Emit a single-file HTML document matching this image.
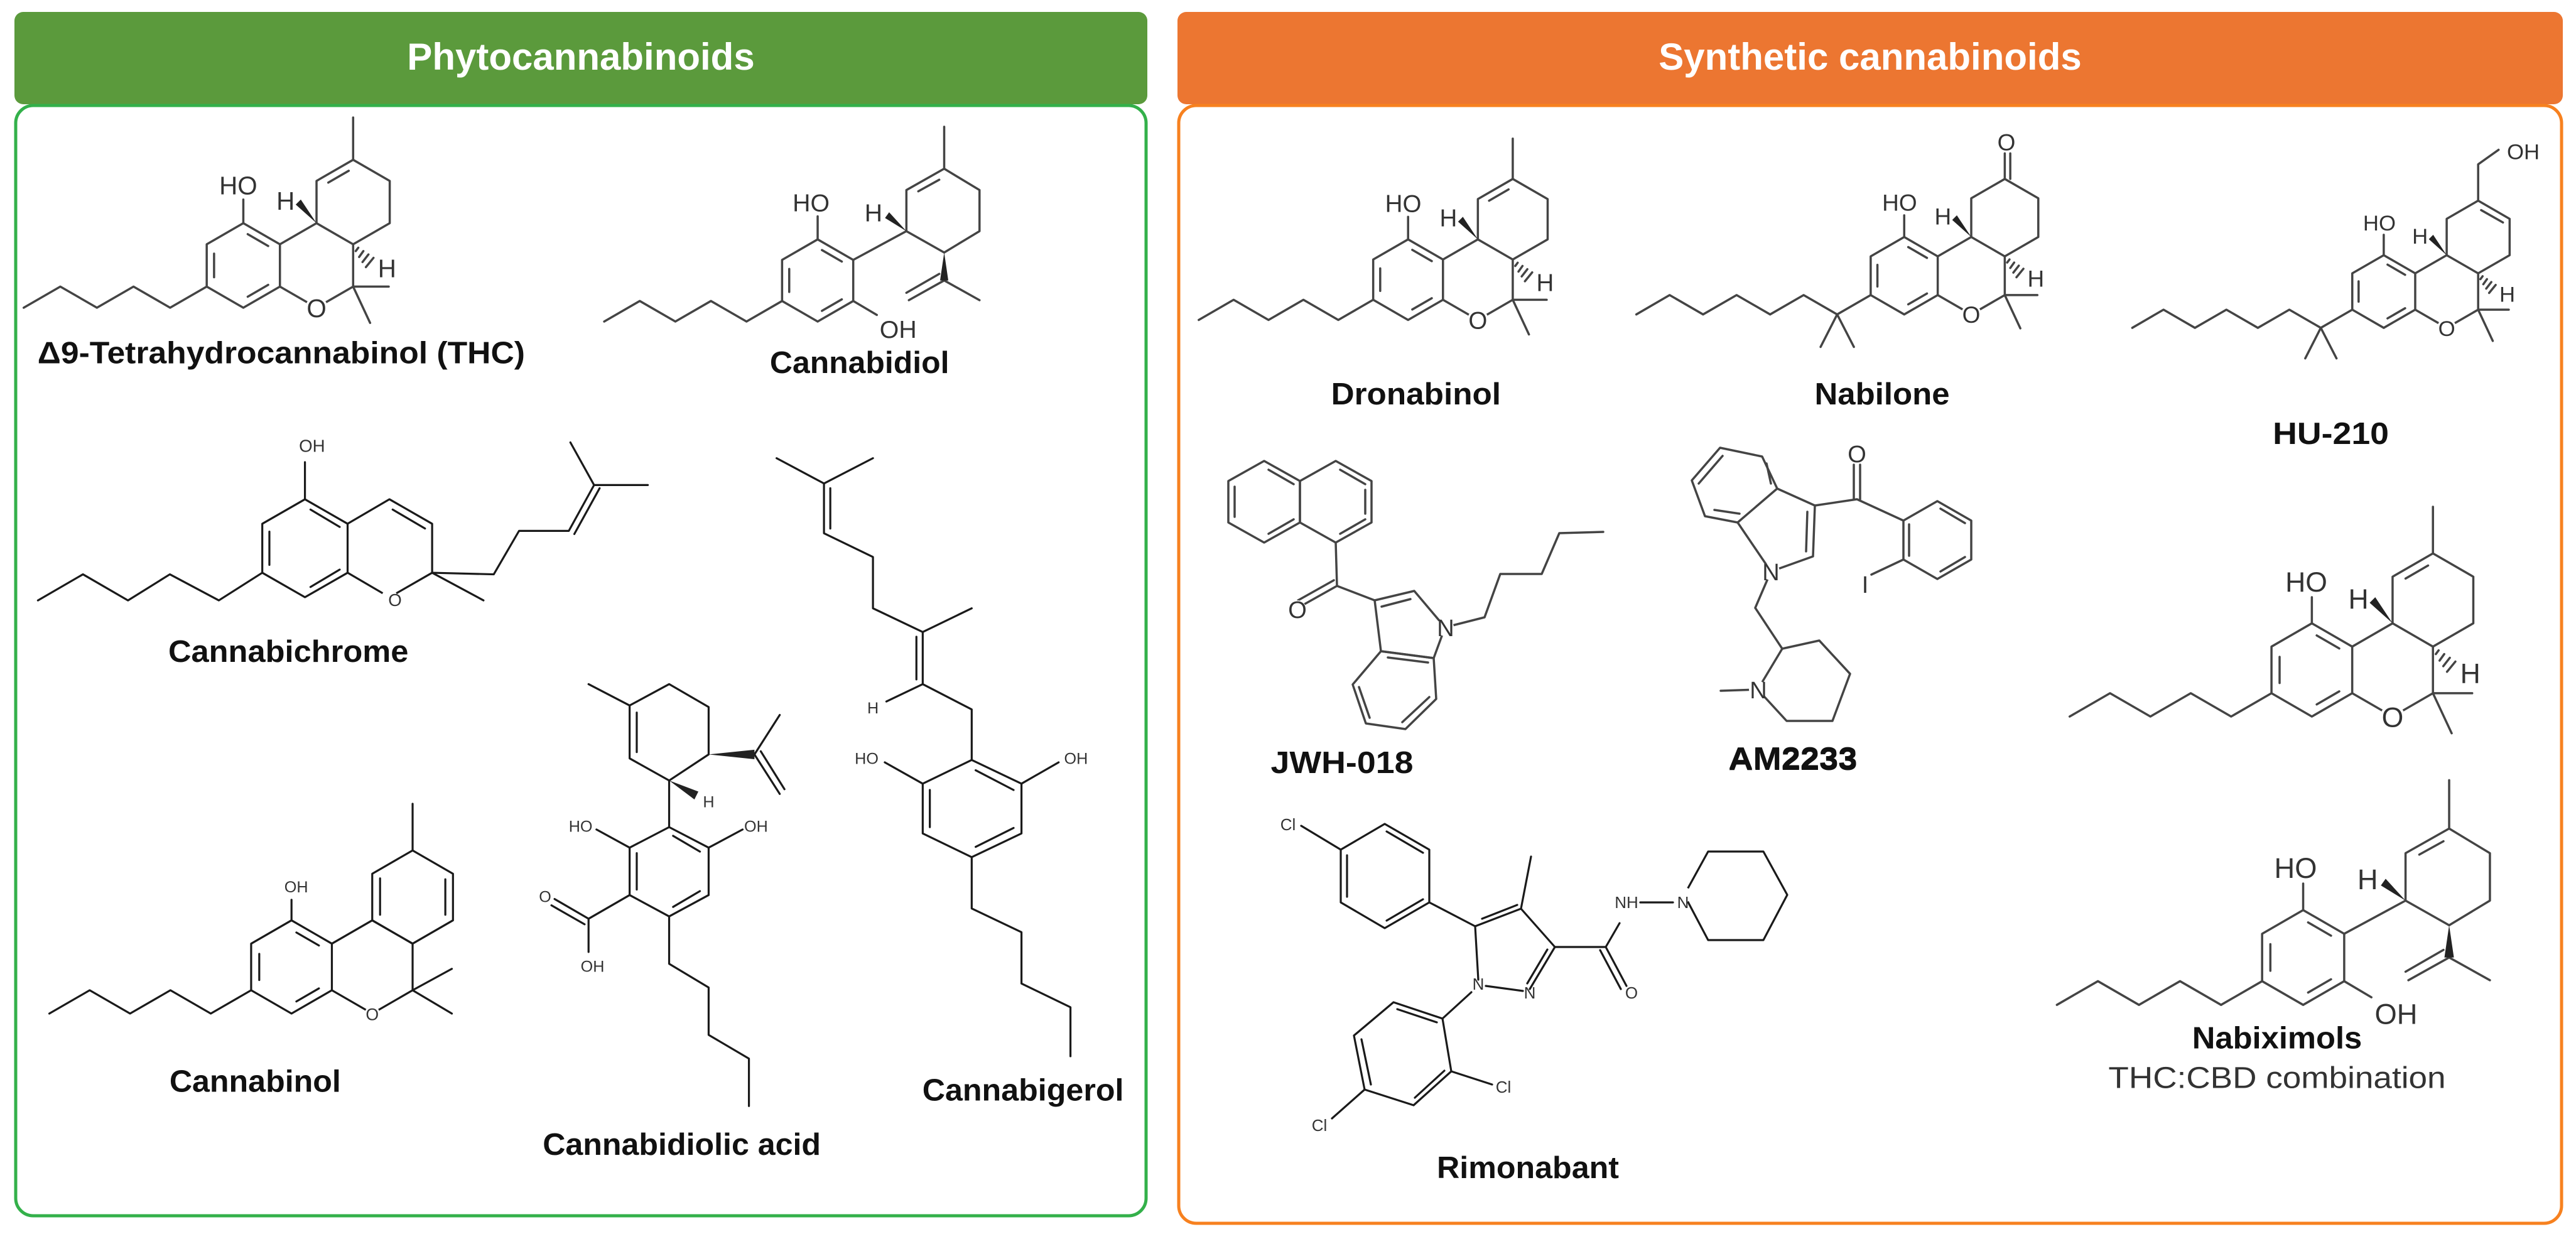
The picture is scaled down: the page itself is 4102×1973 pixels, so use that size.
<!DOCTYPE html>
<html><head><meta charset="utf-8">
<style>
html,body{margin:0;padding:0;background:#fff;}
svg{display:block;}
svg *{vector-effect:non-scaling-stroke;}
.l{fill:none;stroke:#444;stroke-width:3.5;stroke-linejoin:round;stroke-linecap:round;}
.k{fill:none;stroke:#1a1a1a;stroke-width:3.2;stroke-linejoin:round;stroke-linecap:round;}
.w{fill:#222;stroke:none;}
.a{font-family:"Liberation Sans",sans-serif;fill:#333;text-anchor:middle;}
.lab{font-family:"Liberation Sans",sans-serif;font-weight:bold;fill:#111;text-anchor:middle;}
.hd{font-family:"Liberation Sans",sans-serif;font-weight:bold;fill:#fff;text-anchor:middle;font-size:60px;}
</style></head><body>
<svg width="4102" height="1973" viewBox="0 0 4102 1973" xmlns="http://www.w3.org/2000/svg">
<defs>
 <g id="core">
  <polygon class="l" points="0,-50 43.3,-25 43.3,25 0,50 -43.3,25 -43.3,-25"/>
  <path class="l" d="M5.2,-37L29.4,-23M29.4,23L5.2,37M-34.6,14L-34.6,-14"/>
  <polyline class="l" points="43.3,-25 86.6,-50 129.9,-25 129.9,25 86.6,50 43.3,25"/>
  <polyline class="l" points="86.6,-50 86.6,-100 129.9,-125 173.2,-100 173.2,-50 129.9,-25"/>
  <path class="l" d="M0,-50L0,-78M129.9,25L172,25M129.9,25L150,68"/>
  <text class="a" x="-6" y="-84" font-size="30">HO</text>
  <polygon class="w" points="86.6,-50 62,-72 68,-78"/>
  <text class="a" x="50" y="-66" font-size="30">H</text>
  <path class="l" d="M136,-21L133,-17M142,-17L137,-10M148,-13L141,-4M154,-9L145,2"/>
  <text class="a" x="170" y="14" font-size="30">H</text>
  <circle cx="86.6" cy="50" r="13" fill="#fff"/>
  <text class="a" x="86.6" y="61" font-size="30">O</text>
 </g>
 <g id="thc">
  <use href="#core"/>
  <path class="l" d="M100.5,-98L124.7,-112M129.9,-125L129.9,-175"/>
  <polyline class="l" points="-43.3,25 -86.6,50 -129.9,25 -173.2,50 -216.5,25 -259.8,50"/>
 </g>
 <g id="dmh">
  <polyline class="l" points="-43.3,25 -86.6,50 -129.9,25 -173.2,50 -216.5,25 -259.8,50 -303,25 -346,50"/>
  <path class="l" d="M-86.6,50L-108,92M-86.6,50L-65,92"/>
 </g>
 <g id="cbd">
  <polygon class="l" points="0,-50 43.3,-25 43.3,25 0,50 -43.3,25 -43.3,-25"/>
  <path class="l" d="M5.2,-37L29.4,-23M29.4,23L5.2,37M-34.6,14L-34.6,-14"/>
  <path class="l" d="M0,-50L0,-78M43.3,25L72,42M43.3,-25L108,-60"/>
  <text class="a" x="-8" y="-84" font-size="30">HO</text>
  <text class="a" x="98" y="70" font-size="30">OH</text>
  <polygon class="l" points="108,-60 108,-110 154,-136 197,-110 197,-60 154,-34"/>
  <path class="l" d="M122.5,-108.5L148,-122.6M154,-136L154,-187M154,0L197,24M154,0L111,24M148,-8L108,15"/>
  <polygon class="w" points="154,-34 149,0 159,0"/>
  <polygon class="w" points="108,-60 82,-76 87,-83"/>
  <text class="a" x="68" y="-72" font-size="30">H</text>
  <polyline class="l" points="-43.3,25 -86.6,50 -129.9,25 -173.2,50 -216.5,25 -259.8,50"/>
 </g>
</defs>

<!-- headers and boxes -->
<rect x="23" y="19" width="1804" height="147" rx="14" fill="#5b9a3c"/>
<rect x="25" y="168" width="1800" height="1768" rx="28" fill="#fff" stroke="#33b04a" stroke-width="5"/>
<rect x="1875" y="19" width="2206" height="147" rx="14" fill="#ec7631"/>
<rect x="1877" y="168" width="2202" height="1780" rx="28" fill="#fff" stroke="#f7811f" stroke-width="5"/>
<text class="hd" x="925" y="111">Phytocannabinoids</text>
<text class="hd" x="2978" y="111">Synthetic cannabinoids</text>

<!-- LEFT -->
<g transform="scale(1.258)">
 <use href="#thc" transform="translate(308,336) scale(1.07)"/>
 <use href="#cbd" transform="translate(1035,355) scale(1.04)"/>
 <text class="lab" x="356" y="460" font-size="39" textLength="617" lengthAdjust="spacingAndGlyphs">Δ9-Tetrahydrocannabinol (THC)</text>
 <text class="lab" x="1088" y="472" font-size="39" textLength="227" lengthAdjust="spacingAndGlyphs">Cannabidiol</text>

 <!-- Cannabichrome -->
 <polygon class="k" points="386,632 440,663 440,725 386,756 332,725 332,663"/>
 <path class="k" d="M341,673L341,715M393,645L430,667M430,721L393,743"/>
 <polyline class="k" points="440,663 493,632 547,663 547,725 493,756 440,725"/>
 <path class="k" d="M497,645L538,669M386,632L386,585M547,725L612,760"/>
 <polyline class="k" points="547,725 625,727 657,672 720,672 752,614"/>
 <path class="k" d="M727,676L759,618M752,614L722,560M752,614L820,614"/>
 <polyline class="k" points="332,725 277,760 215,727 162,760 105,727 48,760"/>
 <text class="a" x="395" y="572" font-size="22" fill="#111">OH</text>
 <circle cx="493" cy="756" r="10" fill="#fff"/>
 <text class="a" x="500" y="767" font-size="22">O</text>
 <text class="lab" x="365" y="838" font-size="39" textLength="304" lengthAdjust="spacingAndGlyphs">Cannabichrome</text>

 <!-- Cannabinol -->
 <g transform="translate(369,1224) scale(1.18)">
  <polygon class="k" points="0,-50 43.3,-25 43.3,25 0,50 -43.3,25 -43.3,-25"/>
  <path class="k" d="M5.2,-37L29.4,-23M29.4,23L5.2,37M-34.6,14L-34.6,-14"/>
  <polyline class="k" points="43.3,-25 86.6,-50 129.9,-25 129.9,25 86.6,50 43.3,25"/>
  <polygon class="k" points="86.6,-50 86.6,-100 129.9,-125 173.2,-100 173.2,-50 129.9,-25"/>
  <path class="k" d="M165,-94L165,-56M95,-95L95,-56M129.9,-125L129.9,-175M0,-50L0,-72M129.9,25L172,2M129.9,25L172,50"/>
  <polyline class="k" points="-43.3,25 -86.6,50 -129.9,25 -173.2,50 -216.5,25 -259.8,50"/>
  <text class="a" x="5" y="-80" font-size="17" fill="#111">OH</text>
  <circle cx="86.6" cy="50" r="8" fill="#fff"/>
  <text class="a" x="86.6" y="57" font-size="18">O</text>
 </g>
 <text class="lab" x="323" y="1382" font-size="39" textLength="217" lengthAdjust="spacingAndGlyphs">Cannabinol</text>

 <!-- Cannabidiolic acid -->
 <polygon class="k" points="847,1047 897,1073 897,1133 847,1160 797,1133 797,1073"/>
 <path class="k" d="M852,1058L886,1078M886,1128L852,1148M806,1080L806,1126"/>
 <path class="k" d="M797,1073L755,1050M897,1073L940,1050M797,1133L745,1163M745,1163L702,1138M740,1170L698,1146M745,1163L745,1205M847,1047L847,988"/>
 <polygon class="k" points="847,988 797,960 797,893 847,866 897,895 897,955"/>
 <path class="k" d="M806,902L806,952M797,893L745,866M955,955L987,905M955,955L987,1005M963,951L993,999"/>
 <polygon class="w" points="897,955 955,949 955,961"/>
 <polygon class="w" points="847,988 884,1002 879,1012"/>
 <polyline class="k" points="847,1160 847,1220 897,1250 897,1310 948,1340 948,1400"/>
 <text class="a" x="735" y="1053" font-size="20" fill="#111">HO</text>
 <text class="a" x="957" y="1053" font-size="20" fill="#111">OH</text>
 <text class="a" x="690" y="1142" font-size="20" fill="#111">O</text>
 <text class="a" x="750" y="1230" font-size="20" fill="#111">OH</text>
 <text class="a" x="897" y="1022" font-size="20" fill="#111">H</text>
 <text class="lab" x="863" y="1462" font-size="39" textLength="352" lengthAdjust="spacingAndGlyphs">Cannabidiolic acid</text>

 <!-- Cannabigerol -->
 <polygon class="k" points="1230,962 1293,992 1293,1055 1230,1085 1168,1055 1168,992"/>
 <path class="k" d="M1177,1000L1177,1047M1235,975L1283,1000M1283,1048L1235,1072"/>
 <path class="k" d="M1168,992L1120,965M1293,992L1340,965"/>
 <polyline class="k" points="1230,962 1230,898 1168,866 1168,800 1105,770 1105,705 1043,675 1043,612"/>
 <path class="k" d="M1160,860L1160,806M1051,669L1051,618M1168,800L1230,770M1043,612L983,580M1043,612L1105,580M1168,866L1122,888"/>
 <polyline class="k" points="1230,1085 1230,1150 1293,1180 1293,1245 1355,1275 1355,1337"/>
 <text class="a" x="1097" y="967" font-size="20" fill="#111">HO</text>
 <text class="a" x="1362" y="967" font-size="20" fill="#111">OH</text>
 <text class="a" x="1105" y="903" font-size="20" fill="#111">H</text>
 <text class="lab" x="1295" y="1393" font-size="39" textLength="255" lengthAdjust="spacingAndGlyphs">Cannabigerol</text>
</g>

<!-- RIGHT (zoomed coords) -->
<g transform="translate(2129,0) scale(1.258)">
 <use href="#thc" transform="translate(90,354) scale(1.02)"/>
 <g transform="translate(718,349) scale(0.98)">
  <use href="#core"/><use href="#dmh"/>
  <path class="l" d="M129.9,-125L129.9,-158M137,-125L137,-158"/>
  <text class="a" x="132" y="-162" font-size="30">O</text>
 </g>
 <g transform="translate(1325,369) scale(0.92)">
  <use href="#core"/><use href="#dmh"/>
  <path class="l" d="M134,-112L164,-95M129.9,-125L129.9,-175L158,-195"/>
  <text class="a" x="192" y="-182" font-size="30">OH</text>
 </g>
 <use href="#thc" transform="translate(1234,848) scale(1.18)"/>
 <use href="#cbd" transform="translate(1223,1212) scale(1.2)"/>
 <text class="lab" x="100" y="512" font-size="39" textLength="215" lengthAdjust="spacingAndGlyphs">Dronabinol</text>
 <text class="lab" x="690" y="512" font-size="39" textLength="171" lengthAdjust="spacingAndGlyphs">Nabilone</text>
 <text class="lab" x="1258" y="562" font-size="39" textLength="147" lengthAdjust="spacingAndGlyphs">HU-210</text>
 <text class="lab" x="577" y="973" font-size="39" textLength="163" lengthAdjust="spacingAndGlyphs">AM2233</text>
 <text class="lab" x="1190" y="1327" font-size="39" textLength="215" lengthAdjust="spacingAndGlyphs">Nabiximols</text>
 <text class="a" x="1190" y="1377" font-size="38" fill="#111" textLength="427" lengthAdjust="spacingAndGlyphs">THC:CBD combination</text>
</g>

<!-- JWH-018 (orig coords) -->
<g>
 <polygon class="l" points="2013,734 2070,766 2070,832 2013,864 1956,832 1956,766"/>
 <polygon class="l" points="2127,734 2184,766 2184,832 2127,864 2070,832 2070,766"/>
 <path class="l" d="M1966,775L1966,823M2020,748L2060,771M2060,827L2020,850M2134,748L2174,771M2174,780L2174,818M2134,850L2174,827"/>
 <path class="l" d="M2127,864L2129,933M2129,933L2072,965M2124,924L2067,956M2129,933L2189,956"/>
 <polygon class="l" points="2189,956 2252,941 2301,999 2283,1048 2199,1037"/>
 <path class="l" d="M2200,966L2246,954"/>
 <polygon class="l" points="2199,1037 2283,1048 2287,1113 2238,1161 2175,1152 2154,1090"/>
 <path class="l" d="M2164,1094L2181,1143M2233,1150L2276,1110M2210,1047L2274,1055"/>
 <polyline class="l" points="2301,999 2364,983 2389,914 2455,914 2483,849 2553,847"/>
 <circle cx="2301" cy="999" r="14" fill="#fff"/>
 <text class="a" x="2302" y="1013" font-size="38">N</text>
 <circle cx="2066" cy="970" r="14" fill="#fff"/>
 <text class="a" x="2066" y="984" font-size="38">O</text>
 <text class="lab" x="2137" y="1231" font-size="49" textLength="227" lengthAdjust="spacingAndGlyphs">JWH-018</text>
</g>

<!-- AM2233 -->
<g>
 <polygon class="l" points="2694,765 2739,713 2806,727 2830,778 2767,832 2715,822"/>
 <path class="l" d="M2705,770L2743,726M2730,812L2770,818M2813,738L2820,770"/>
 <polyline class="l" points="2830,778 2890,805 2887,886 2820,910 2767,832"/>
 <path class="l" d="M2878,815L2876,878"/>
 <path class="l" d="M2890,805L2957,795L3031,829M2952,795L2952,740M2962,795L2962,740"/>
 <polygon class="l" points="3085,798 3139,829 3139,891 3085,922 3031,891 3031,829"/>
 <path class="l" d="M3090,810L3129,833M3129,887L3090,910M3040,835L3040,885M3031,891L2980,915"/>
 <polyline class="l" points="2820,910 2795,968 2838,1033"/>
 <polygon class="l" points="2838,1033 2897,1020 2946,1073 2918,1148 2845,1148 2799,1098"/>
 <path class="l" d="M2799,1098L2740,1100"/>
 <circle cx="2820" cy="910" r="14" fill="#fff"/>
 <text class="a" x="2820" y="924" font-size="38">N</text>
 <circle cx="2799" cy="1098" r="14" fill="#fff"/>
 <text class="a" x="2800" y="1112" font-size="38">N</text>
 <text class="a" x="2957" y="736" font-size="38">O</text>
 <text class="a" x="2970" y="944" font-size="38">I</text>
 <text class="lab" x="2855" y="1226" font-size="49" textLength="205" lengthAdjust="spacingAndGlyphs">AM2233</text>
</g>

<!-- Rimonabant -->
<g>
 <polygon class="k" points="2135,1353 2205,1312 2276,1353 2276,1437 2205,1478 2135,1437"/>
 <path class="k" d="M2145,1362L2145,1428M2208,1324L2266,1358M2266,1432L2208,1466"/>
 <path class="k" d="M2135,1353L2072,1315M2276,1437L2349,1475"/>
 <polyline class="k" points="2349,1475 2422,1447 2476,1508 2436,1575"/>
 <polyline class="k" points="2349,1475 2354,1560"/>
 <path class="k" d="M2360,1463L2416,1441M2464,1512L2432,1566M2366,1570L2425,1578M2422,1447L2438,1364M2476,1508L2557,1508M2557,1508L2579,1470M2557,1508L2590,1570M2548,1513L2581,1575M2612,1437L2664,1437"/>
 <polygon class="k" points="2682,1425 2720,1356 2808,1356 2846,1425 2808,1497 2720,1497"/>
 <path class="k" d="M2343,1580L2297,1622"/>
 <polygon class="k" points="2297,1622 2219,1596 2156,1649 2173,1735 2251,1760 2311,1706"/>
 <path class="k" d="M2225,1607L2288,1628M2168,1655L2183,1727M2253,1748L2300,1705M2311,1706L2376,1727M2173,1735L2121,1781"/>
 <circle cx="2682" cy="1425" r="12" fill="#fff"/>
 <text class="a" x="2354" y="1576" font-size="26" fill="#111">N</text>
 <text class="a" x="2436" y="1590" font-size="26" fill="#111">N</text>
 <text class="a" x="2598" y="1590" font-size="26" fill="#111">O</text>
 <text class="a" x="2590" y="1446" font-size="26" fill="#111">NH</text>
 <text class="a" x="2680" y="1446" font-size="26" fill="#111">N</text>
 <text class="a" x="2051" y="1322" font-size="26" fill="#111">Cl</text>
 <text class="a" x="2394" y="1740" font-size="26" fill="#111">Cl</text>
 <text class="a" x="2101" y="1801" font-size="26" fill="#111">Cl</text>
 <text class="lab" x="2433" y="1876" font-size="49" textLength="290" lengthAdjust="spacingAndGlyphs">Rimonabant</text>
</g>
</svg>
</body></html>
